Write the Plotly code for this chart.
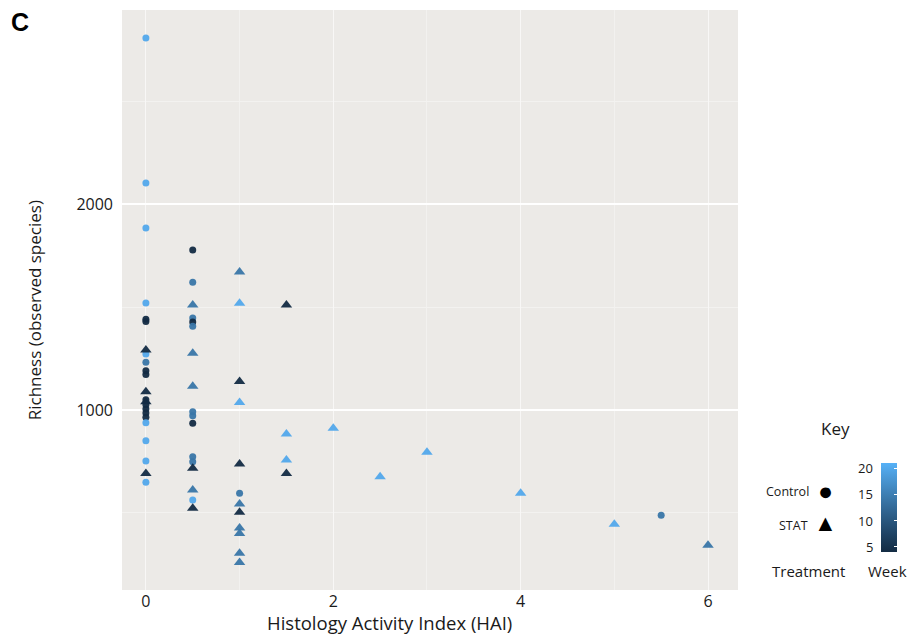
import numpy as np
import plotly.graph_objects as go

# ---- data: Histology Activity Index vs observed richness, by treatment ----
ctrl_hai = [0, 0, 0, 0, 0, 0, 0, 0, 0, 0, 0, 0, 0, 0, 0, 0, 0, 0, 0,
            0.5, 0.5, 0.5, 0.5, 0.5, 0.5, 0.5, 0.5, 0.5, 0.5, 0.5,
            1, 5.5]
ctrl_rich = [2806, 2102, 1883, 1520, 1440, 1430, 1272, 1232, 1190, 1172,
             1050, 1025, 1005, 985, 965, 938, 851, 752, 649,
             1777, 1620, 1447, 1427, 1407, 992, 972, 935, 773, 749, 563,
             596, 489]
ctrl_week = [20, 20, 20, 20, 4, 4, 20, 14, 4, 4,
             4, 4, 4, 4, 4, 20, 20, 20, 20,
             4, 14, 14, 4, 14, 14, 14, 4, 14, 14, 20,
             14, 14]

stat_hai = [0, 0, 0, 0,
            0.5, 0.5, 0.5, 0.5, 0.5, 0.5,
            1, 1, 1, 1, 1, 1, 1, 1, 1, 1, 1,
            1.5, 1.5, 1.5, 1.5,
            2, 2.5, 3, 4, 5, 6]
stat_rich = [1291, 1089, 1040, 692,
             1510, 1275, 1115, 717, 612, 523,
             1670, 1518, 1138, 1036, 738, 544, 503, 427, 400, 304, 259,
             1510, 883, 757, 692,
             911, 676, 795, 596, 445, 343]
stat_week = [4, 4, 4, 4,
             14, 14, 14, 4, 14, 4,
             14, 20, 4, 20, 4, 14, 4, 14, 14, 14, 14,
             4, 20, 20, 4,
             20, 20, 20, 20, 20, 14]

week_ticks = [5, 10, 15, 20]
week_min, week_max = 4, 21

x_ticks = [0, 2, 4, 6]
y_ticks = [1000, 2000]


# ---- colour scale: dark navy -> light blue, interpolated in CIE Lab ----
def _srgb_to_lin(c):
    c = c / 255.0
    return np.where(c <= 0.04045, c / 12.92, ((c + 0.055) / 1.055) ** 2.4)


def _lin_to_srgb(c):
    c = np.clip(c, 0, 1)
    v = np.where(c <= 0.0031308, 12.92 * c, 1.055 * c ** (1 / 2.4) - 0.055)
    return np.clip(np.round(v * 255), 0, 255)


_M = np.array([[0.4124, 0.3576, 0.1805],
               [0.2126, 0.7152, 0.0722],
               [0.0193, 0.1192, 0.9505]])
_WHITE = np.array([0.95047, 1.0, 1.08883])


def _f(t):
    return np.where(t > (6 / 29) ** 3, np.cbrt(t), t / (3 * (6 / 29) ** 2) + 4 / 29)


def _finv(t):
    return np.where(t > 6 / 29, t ** 3, 3 * (6 / 29) ** 2 * (t - 4 / 29))


def hex_to_lab(h):
    rgb = np.array([int(h[i:i + 2], 16) for i in (1, 3, 5)], dtype=float)
    xyz = _M @ _srgb_to_lin(rgb) / _WHITE
    fx, fy, fz = _f(xyz)
    return np.array([116 * fy - 16, 500 * (fx - fy), 200 * (fy - fz)])


def lab_to_hex(lab):
    L, a, b = lab
    fy = (L + 16) / 116
    fx = fy + a / 500
    fz = fy - b / 200
    xyz = _finv(np.array([fx, fy, fz])) * _WHITE
    rgb = _lin_to_srgb(np.linalg.inv(_M) @ xyz).astype(int)
    return "#%02x%02x%02x" % tuple(rgb)


low_lab, high_lab = hex_to_lab("#132B43"), hex_to_lab("#56B1F7")
stops = np.linspace(0, 1, 11)
colorscale = [[float(s), lab_to_hex(low_lab + s * (high_lab - low_lab))] for s in stops]

# ---- layout geometry (pixels) ----
W, H = 910, 634
ML, MR, MT, MB = 122, 170, 10, 44
PW, PH = W - ML - MR, H - MT - MB


def px(x):
    return (x - ML) / PW


def py(y):
    return (H - MB - y) / PH


FONT = "Open Sans"
TXT = "#1a1a1a"

fig = go.Figure()

marker_common = dict(coloraxis="coloraxis", opacity=0.95, line=dict(width=0))

fig.add_trace(go.Scatter(
    x=ctrl_hai, y=ctrl_rich, mode="markers", name="Control",
    marker=dict(symbol="circle", size=7, color=ctrl_week, **marker_common),
    showlegend=False,
))
fig.add_trace(go.Scatter(
    x=stat_hai, y=stat_rich, mode="markers", name="STAT",
    marker=dict(symbol="triangle-up", size=10, color=stat_week, **marker_common),
    showlegend=False,
))

# colour bar geometry
cb_top, cb_bot = 463, 552
cb_left, cb_w = 883, 16

fig.update_layout(
    width=W, height=H,
    margin=dict(l=ML, r=MR, t=MT, b=MB, pad=0),
    paper_bgcolor="white",
    plot_bgcolor="#ECEAE7",
    font=dict(family=FONT, size=16, color=TXT),
    coloraxis=dict(
        colorscale=colorscale, cmin=week_min, cmax=week_max,
        colorbar=dict(
            x=px(cb_left), xanchor="left", xref="paper",
            y=py(cb_bot), yanchor="bottom", yref="paper",
            len=(cb_bot - cb_top) / PH, lenmode="fraction",
            thickness=cb_w, thicknessmode="pixels",
            xpad=0, ypad=0, outlinewidth=0,
            tickvals=week_ticks, ticks="inside", ticklen=3,
            tickcolor="white", tickwidth=1,
            showticklabels=False,
            title=dict(text=""),
        ),
    ),
    xaxis=dict(
        range=[-0.255, 6.32], tickvals=x_ticks,
        showgrid=True, gridcolor="#F8F7F6", gridwidth=1.2,
        minor=dict(dtick=1, tick0=0, showgrid=True, gridcolor="#F2F1EF", gridwidth=1),
        zeroline=False, showline=False, ticks="",
        tickfont=dict(size=16, color=TXT),
    ),
    yaxis=dict(
        range=[126, 2942], tickvals=y_ticks,
        showgrid=True, gridcolor="white", gridwidth=1.6,
        minor=dict(dtick=500, tick0=0, showgrid=True, gridcolor="#F3F2F0", gridwidth=1),
        zeroline=False, showline=False, ticks="",
        ticklabelstandoff=8,
        tickfont=dict(size=16, color=TXT),
    ),
)

ann = []


def text(x, y, s, size=16, xanchor="center", angle=0, color=TXT):
    ann.append(dict(
        x=px(x), y=py(y), xref="paper", yref="paper", text=s,
        showarrow=False, xanchor=xanchor, yanchor="middle", textangle=angle,
        font=dict(family=FONT, size=size, color=color),
    ))


# panel letter
ann.append(dict(x=px(9), y=py(22), xref="paper", yref="paper", text="<b>C</b>",
                showarrow=False, xanchor="left", yanchor="middle",
                font=dict(family="Liberation Sans", size=25, color="black")))
# axis titles
text(390, 622, "Histology Activity Index (HAI)", size=18.5)
text(35, 310, "Richness (observed species)", size=17)

ann[-1]["textangle"] = -90

# key
text(838, 428, "Key", size=17)
text(813, 491, "Control", size=12.5, xanchor="right")
text(812, 525, "STAT", size=12.5, xanchor="right")
text(828, 490, "●", size=25, color="black")
text(828, 522, "▲", size=23, color="black")
text(811, 571, "Treatment", size=15)
text(890, 571, "Week", size=15)
for v in week_ticks:
    yy = cb_bot - (v - week_min) / (week_max - week_min) * (cb_bot - cb_top)
    text(877, yy, str(v), size=13, xanchor="right")

fig.update_layout(annotations=ann)

fig.write_html("out.html")
